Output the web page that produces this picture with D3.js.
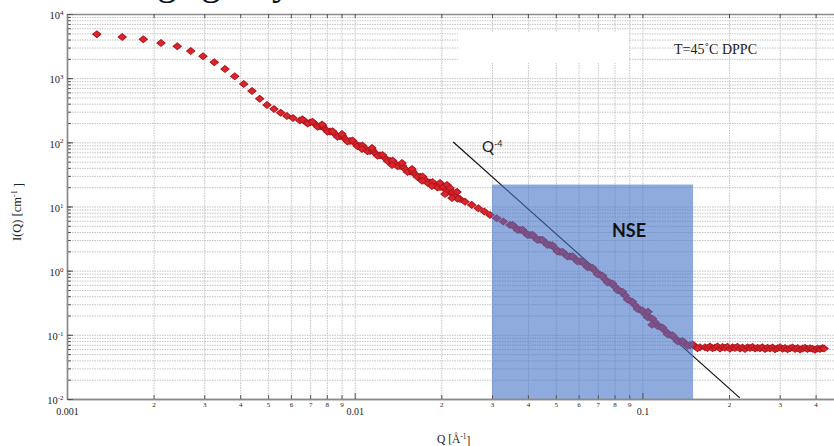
<!DOCTYPE html>
<html>
<head>
<meta charset="utf-8">
<script src="https://cdnjs.cloudflare.com/ajax/libs/d3/7.8.5/d3.min.js"></script>
<style>
    body { margin: 0; background: #fff; }
    svg { display: block; }
    .axis text { font-family: "Liberation Serif", "Times New Roman", serif; fill: #222; }
    .axis path.domain { stroke: #8a8a8a; stroke-width: 1.4; }
    .axis line { stroke: #555; }
    .grid line { stroke: #c4c4c4; stroke-width: 1; stroke-dasharray: 1.5,1; }
</style>
</head>
<body>
<div id="chart"></div>
<script>
'use strict';

// values: Q in 1/A, I in 1/cm
const lowQ = [0.00127, 0.001556, 0.001842, 0.002122, 0.002417, 0.002692, 0.00297, 0.003251, 0.003541,
    0.003828, 0.004114, 0.004396, 0.004676, 0.004958, 0.005243, 0.005532, 0.005815, 0.006102];
const lowI = [4830, 4385, 4036, 3535, 3140, 2653, 2193, 1769, 1391, 1071, 812, 632, 479, 383, 331, 290, 258, 240];

const midQ = [0.00645, 0.00672, 0.00699, 0.00728, 0.00758, 0.00789, 0.00821, 0.00854, 0.00889, 0.00925,
    0.00963, 0.01002, 0.01043, 0.01086, 0.0113, 0.01177, 0.01224, 0.01274, 0.01327, 0.01381,
    0.01437, 0.01496, 0.01557, 0.0162, 0.01687, 0.01755, 0.01827, 0.01902, 0.0198, 0.0206,
    0.02144, 0.02232, 0.02323, 0.02418, 0.02551, 0.02689, 0.02822, 0.02953, 0.03116, 0.03285,
    0.03466, 0.03608, 0.03755, 0.03908, 0.04067, 0.04233, 0.04406, 0.04586, 0.04773, 0.04968,
    0.05171, 0.05383, 0.05603, 0.05831, 0.06069, 0.06317, 0.06575, 0.06844, 0.07123, 0.07413,
    0.07716, 0.08031, 0.08359, 0.087, 0.09056, 0.09425, 0.0981, 0.1021, 0.1063, 0.1106,
    0.1151, 0.1198, 0.1247, 0.1298, 0.1351, 0.1406, 0.1464, 0.1523, 0.1585];
const midI = [219, 212, 203, 193, 178, 162, 147, 135, 124, 114,
    105, 96.8, 87.9, 80.4, 73.5, 68.4, 63.0, 57.1, 51.3, 46.9,
    42.9, 38.5, 35.0, 31.9, 29.2, 26.2, 23.7, 21.7, 20.2, 18.5,
    16.9, 14.9, 13.1, 11.9, 10.6, 9.41, 8.33, 7.40, 6.57, 5.82,
    5.17, 4.73, 4.32, 3.95, 3.61, 3.30, 3.02, 2.76, 2.52, 2.23,
    1.96, 1.81, 1.67, 1.53, 1.40, 1.25, 1.13, 0.993, 0.860, 0.732,
    0.646, 0.560, 0.484, 0.412, 0.339, 0.288, 0.245, 0.212, 0.184, 0.1565,
    0.1332, 0.1154, 0.100, 0.0882, 0.0786, 0.0737, 0.0686, 0.0662, 0.0639];

// in-between points of the thick band (both edges of the band)
const denseQ = [0.00658, 0.00686, 0.00713, 0.00743, 0.00773, 0.00805, 0.00838, 0.00871, 0.00907, 0.00944,
    0.00982, 0.01022, 0.01064, 0.01108, 0.01153, 0.01201, 0.01249, 0.013, 0.01354, 0.01409,
    0.01466, 0.01526, 0.01588, 0.01653, 0.01721, 0.0179, 0.01864, 0.0194, 0.0202, 0.02102,
    0.02187, 0.02277,
    0.03536, 0.03681, 0.03831, 0.03987, 0.04149, 0.04319, 0.04495, 0.04679, 0.04869, 0.05068,
    0.05276, 0.05491, 0.05716, 0.05949, 0.06192, 0.06445, 0.06708, 0.06982, 0.07267, 0.07563,
    0.07872, 0.08193, 0.08528, 0.08876, 0.09239, 0.09615, 0.1001, 0.1042, 0.1084, 0.1128,
    0.1174, 0.1222, 0.1272, 0.1324, 0.1378, 0.1434, 0.1494, 0.1554];
const denseI = [228, 196, 210, 175, 180, 145.6, 149.3, 122, 126, 103.2,
    106.9, 87.0, 89.1, 72.5, 75.2, 61.9, 63.6, 51.1, 52.0, 42.3,
    43.1, 34.6, 35.4, 28.8, 29.3, 23.5, 24.0, 19.7, 20.5, 16.7,
    16.8, 13.2,
    5.19, 4.30, 4.34, 3.60, 3.62, 3.01, 3.03, 2.51, 2.49, 1.99,
    1.98, 1.66, 1.68, 1.39, 1.39, 1.13, 1.11, 0.88, 0.833, 0.655,
    0.631, 0.496, 0.469, 0.356, 0.328, 0.253, 0.239, 0.188, 0.178, 0.1375,
    0.130, 0.1023, 0.0986, 0.0793, 0.0799, 0.0677, 0.0708, 0.0619];

// off-trend points (noisy stretch near 0.02 and the bar near 0.1)
const scatterQ = [0.0077, 0.00903, 0.0106, 0.01148, 0.01348, 0.0146, 0.01582, 0.01714, 0.01856,
    0.0198, 0.02094, 0.0206, 0.02144, 0.02179, 0.02268, 0.1046, 0.108];
const scatterI = [190, 135, 78.9, 81.8, 44.5, 47.8, 38.5, 25.1, 20.9,
    23.3, 21.7, 15.7, 19.5, 13.6, 16.9, 0.228, 0.1432];

const flatQ = [0.165, 0.1683, 0.1718, 0.1753, 0.1788, 0.1824, 0.1861, 0.1899, 0.1937, 0.1976,
    0.2016, 0.2057, 0.2098, 0.214, 0.2184, 0.2228, 0.2273, 0.2319, 0.2366, 0.2414,
    0.2463, 0.2513, 0.2563, 0.2615, 0.2668, 0.2722, 0.2777, 0.2833, 0.289, 0.2948,
    0.3008, 0.3069, 0.3131, 0.3194, 0.3259, 0.3325, 0.3392, 0.3461, 0.353, 0.3601,
    0.3675, 0.3749, 0.3825, 0.3902, 0.398, 0.406, 0.4144, 0.4228, 0.428];
const flatI = [0.0640, 0.0622, 0.0655, 0.0618, 0.0636, 0.0660, 0.0612, 0.0645, 0.0628, 0.0650,
    0.0608, 0.0638, 0.0625, 0.0652, 0.0615, 0.0633, 0.0602, 0.0640, 0.0621, 0.0648,
    0.0610, 0.0630, 0.0617, 0.0642, 0.0600, 0.0627, 0.0612, 0.0636, 0.0598, 0.0620,
    0.0640, 0.0606, 0.0625, 0.0596, 0.0618, 0.0632, 0.0603, 0.0622, 0.0590, 0.0614,
    0.0628, 0.0599, 0.0620, 0.0605, 0.0588, 0.0615, 0.0600, 0.0622, 0.0610];

// Q^-4 guide and the NSE window
const guideQ = [0.022, 0.218];
const guideI = [101, 0.0104];
const nseQ = [0.03, 0.15];
const nseTop = 22;

const xMajorTicks = [0.001, 0.01, 0.1];
const xMajorLabels = ['0.001', '0.01', '0.1'];
const xMinorTicks = [0.002, 0.003, 0.004, 0.005, 0.006, 0.007, 0.008, 0.009,
    0.02, 0.03, 0.04, 0.05, 0.06, 0.07, 0.08, 0.09, 0.2, 0.3, 0.4];
const xMinorLabels = ['2', '3', '4', '5', '6', '7', '8', '9',
    '2', '3', '4', '5', '6', '7', '8', '9', '2', '3', '4'];
const yMajorTicks = [0.01, 0.1, 1, 10, 100, 1000, 10000];
const yExponents = ['-2', '-1', '0', '1', '2', '3', '4'];

class ScatteringPlot {
    constructor(divId, width, height, options) {
        this.options = options;
        this.svg = d3.select('#' + divId).append('svg')
            .attr('width', width)
            .attr('height', height);

        let o = options;
        this.x = d3.scaleLog().domain(o.xDomain).range([o.left, o.right]);
        this.y = d3.scaleLog().domain(o.yDomain).range([o.bottom, o.top]);

        this.svg.append('defs').append('clipPath').attr('id', 'plot-clip')
            .append('rect')
            .attr('x', o.left)
            .attr('y', o.top)
            .attr('width', o.right - o.left)
            .attr('height', o.bottom - o.top);
    }

    renderGrid() {
        let self = this;
        let o = self.options;
        self.svg.append('g').attr('class', 'grid')
            .attr('transform', 'translate(0,' + o.bottom + ')')
            .call(d3.axisBottom(self.x).tickSize(-(o.bottom - o.top)).tickFormat(''))
            .call(function (g) { g.select('.domain').remove(); });
        self.svg.append('g').attr('class', 'grid')
            .attr('transform', 'translate(' + o.left + ',0)')
            .call(d3.axisLeft(self.y).tickSize(-(o.right - o.left)).tickFormat(''))
            .call(function (g) { g.select('.domain').remove(); });

        // blanked patch in the original figure
        self.svg.append('rect')
            .attr('x', 458).attr('y', 32)
            .attr('width', 171).attr('height', 31)
            .style('fill', '#fff');
    }

    renderGuide() {
        let self = this;
        let line = d3.line()
            .x(function (d) { return self.x(d[0]); })
            .y(function (d) { return self.y(d[1]); });
        self.svg.append('path')
            .datum(d3.zip(guideQ, guideI))
            .attr('clip-path', 'url(#plot-clip)')
            .attr('d', line)
            .style('fill', 'none')
            .style('stroke', '#111')
            .style('stroke-width', 1.2);
    }

    renderPoints(qs, is) {
        let self = this;
        let diamond = d3.symbol().type(d3.symbolSquare).size(28);
        self.svg.append('g')
            .attr('clip-path', 'url(#plot-clip)')
            .selectAll('path')
            .data(d3.zip(qs, is))
            .enter().append('path')
            .attr('d', diamond)
            .attr('transform', function (d) {
                return 'translate(' + self.x(d[0]) + ',' + self.y(d[1]) + ') scale(1.1,0.9) rotate(45)';
            })
            .style('fill', '#d9262c')
            .style('stroke', '#b3141c')
            .style('stroke-width', 1);
    }

    renderWindow() {
        let self = this;
        let o = self.options;
        self.svg.append('rect')
            .attr('x', self.x(nseQ[0]))
            .attr('y', self.y(nseTop))
            .attr('width', self.x(nseQ[1]) - self.x(nseQ[0]))
            .attr('height', o.bottom - self.y(nseTop))
            .style('fill', '#4472c4')
            .style('opacity', 0.6);
    }

    renderAxes() {
        let self = this;
        let o = self.options;
        let svg = self.svg;

        // top border with inward ticks
        svg.append('g').attr('class', 'axis')
            .attr('transform', 'translate(0,' + o.top + ')')
            .call(d3.axisTop(self.x).tickValues(xMinorTicks.concat(xMajorTicks))
                .tickSize(-4).tickSizeOuter(0).tickFormat(''));

        svg.append('g').attr('class', 'axis')
            .attr('transform', 'translate(0,' + o.bottom + ')')
            .call(d3.axisBottom(self.x).tickValues(xMinorTicks)
                .tickSize(-4).tickSizeOuter(0).tickPadding(3)
                .tickFormat(function (d, i) { return xMinorLabels[i]; }))
            .selectAll('text').attr('font-size', '7px');

        svg.append('g').attr('class', 'axis')
            .attr('transform', 'translate(0,' + o.bottom + ')')
            .call(d3.axisBottom(self.x).tickValues(xMajorTicks)
                .tickSize(-6).tickSizeOuter(0).tickPadding(9)
                .tickFormat(function (d, i) { return xMajorLabels[i]; }))
            .selectAll('text').attr('font-size', '10px');

        // left axis: inward minor ticks, then the decade labels
        svg.append('g').attr('class', 'axis')
            .attr('transform', 'translate(' + o.left + ',0)')
            .call(d3.axisLeft(self.y).tickSize(-4).tickSizeOuter(0).tickFormat(''));

        let yAxis = svg.append('g').attr('class', 'axis')
            .attr('transform', 'translate(' + o.left + ',0)')
            .call(d3.axisLeft(self.y).tickValues(yMajorTicks)
                .tickSize(-6).tickSizeOuter(0).tickPadding(3.5));
        yAxis.selectAll('.tick text').each(function (d, i) {
            let t = d3.select(this).text('').attr('font-size', '10.5px').attr('dy', '0.45em');
            t.append('tspan').text('10');
            t.append('tspan').attr('dy', '-0.6em').attr('font-size', '7px').text(yExponents[i]);
        });
        yAxis.selectAll('.tick text').attr('x', -3.5);
    }

    renderLabels() {
        let svg = this.svg;
        let serif = '"Liberation Serif", "Times New Roman", serif';
        let sans = 'Lato, "Liberation Sans", sans-serif';

        let xl = svg.append('text')
            .attr('x', 437).attr('y', 443)
            .style('font-family', serif).style('font-size', '11.5px').style('fill', '#222');
        xl.append('tspan').text('Q [Å');
        xl.append('tspan').attr('dy', '-0.5em').style('font-size', '7.5px').text('-1');
        xl.append('tspan').attr('dy', '0.5em').text(']');

        let yl = svg.append('text')
            .attr('transform', 'translate(21,212) rotate(-90)')
            .attr('text-anchor', 'middle')
            .style('font-family', serif).style('font-size', '12.5px').style('fill', '#222');
        yl.append('tspan').text('I(Q) [cm');
        yl.append('tspan').attr('dy', '-0.5em').style('font-size', '8px').text('-1');
        yl.append('tspan').attr('dy', '0.5em').text(' ]');

        svg.append('text')
            .attr('x', 674).attr('y', 54)
            .style('font-family', serif).style('font-size', '14px').style('fill', '#222')
            .text('T=45˚C DPPC');

        let ql = svg.append('text')
            .attr('x', 482).attr('y', 152)
            .style('font-family', sans).style('font-size', '15px').style('fill', '#222');
        ql.append('tspan').text('Q');
        ql.append('tspan').attr('dy', '-0.6em').style('font-size', '9px').text('-4');

        svg.append('text')
            .attr('x', 612).attr('y', 237)
            .style('font-family', sans).style('font-size', '18px')
            .style('font-weight', 'bold').style('fill', '#111')
            .text('NSE');

        // descenders of a caption cropped off above the figure
        let cap = svg.append('text')
            .attr('y', -6)
            .style('font-family', serif).style('font-size', '40px').style('fill', '#111');
        cap.append('tspan').attr('x', 157).text('g');
        cap.append('tspan').attr('x', 201).text('g');
        cap.append('tspan').attr('x', 272).text('y');
    }

    render() {
        this.renderGrid();
        this.renderGuide();
        this.renderPoints(lowQ, lowI);
        this.renderPoints(midQ, midI);
        this.renderPoints(denseQ, denseI);
        this.renderPoints(scatterQ, scatterI);
        this.renderPoints(flatQ, flatI);
        this.renderWindow();
        this.renderAxes();
        this.renderLabels();
    }
}

let plot = new ScatteringPlot('chart', 834, 446, {
    xDomain: [0.001, 0.5],
    yDomain: [0.01, 10000],
    left: 67,
    right: 843.5,
    top: 14,
    bottom: 399
});
plot.render();
</script>
</body>
</html>
